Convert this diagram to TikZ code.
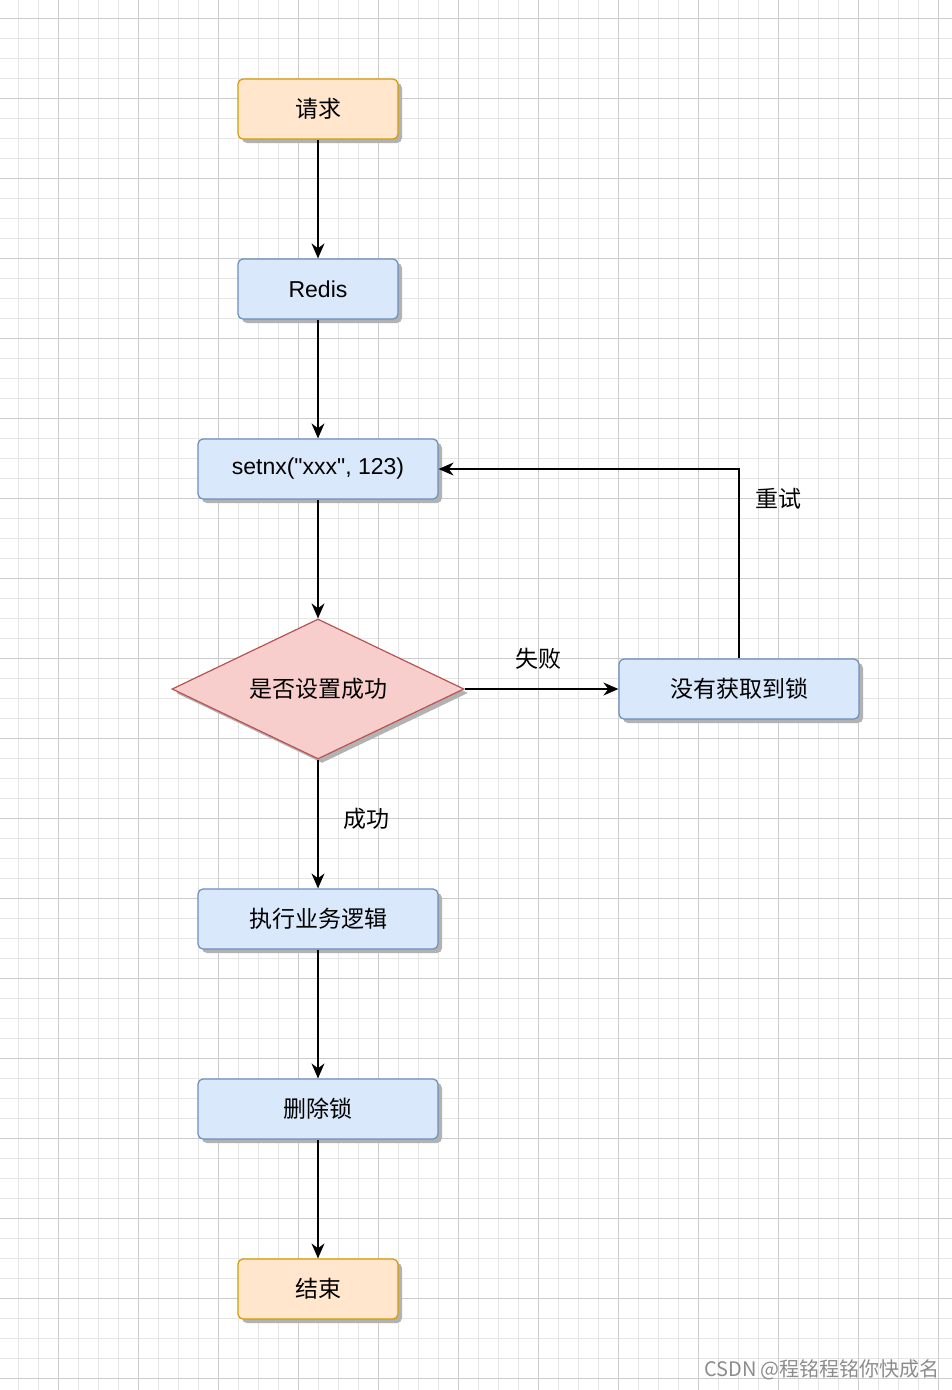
\documentclass[tikz,border=0pt]{standalone}
\usepackage{fontspec}
\setmainfont{Liberation Sans}[Ligatures=TeXOff]
\newfontfamily\cjk{Noto Sans CJK SC}
\usetikzlibrary{shapes.geometric,arrows.meta,shadows}
\definecolor{ofill}{HTML}{FFE6CC}\definecolor{oline}{HTML}{D79B00}
\definecolor{bfill}{HTML}{DAE8FC}\definecolor{bline}{HTML}{6C8EBF}
\definecolor{rfill}{HTML}{F8CECC}\definecolor{rline}{HTML}{B85450}
\begin{document}
\begin{tikzpicture}[x=1pt,y=-1pt,
  sh/.style={drop shadow={shadow xshift=4pt,shadow yshift=-4pt,fill=black!30,opacity=1}},
  box/.style={rectangle,rounded corners=5pt,draw=bline,fill=bfill,line width=1.2pt,minimum width=240pt,minimum height=60pt,sh,font=\fontsize{23}{27}\selectfont\cjk},
  obox/.style={box,draw=oline,fill=ofill,minimum width=160pt},
  dec/.style={diamond,aspect=2.08,draw=rline,fill=rfill,line width=1.2pt,minimum width=292pt,minimum height=140pt,inner sep=0pt,sh,font=\fontsize{23}{27}\selectfont\cjk},
  arr/.style={line width=1.4pt,-{Stealth[length=15pt,width=13pt]}},
  lab/.style={font=\fontsize{23}{27}\selectfont\cjk}]
\useasboundingbox (0,0) rectangle (952,1390);
\fill[white] (0,0) rectangle (952,1390);
\foreach \x in {18,38,...,952} \draw[black!10,line width=0.6pt] (\x,0) -- (\x,1390);
\foreach \y in {18,38,...,1390} \draw[black!10,line width=0.6pt] (0,\y) -- (952,\y);
\foreach \x in {58,138,...,952} \draw[black!20,line width=0.8pt] (\x,0) -- (\x,1390);
\foreach \y in {18,98,...,1390} \draw[black!20,line width=0.8pt] (0,\y) -- (952,\y);
\node[obox] (req) at (318,109) {请求};
\node[obox,fill=bfill,draw=bline,font=\fontsize{23}{27}\selectfont] (redis) at (318,289) {Redis};
\node[box,font=\fontsize{23}{27}\selectfont] (setnx) at (318,469) {setnx("xxx", 123)};
\node[dec] (d) at (318,689) {是否设置成功};
\node[box] (fail) at (739,689) {没有获取到锁};
\node[box] (biz) at (318,919) {执行业务逻辑};
\node[box] (del) at (318,1109) {删除锁};
\node[obox] (end) at (318,1289) {结束};
\draw[arr] (req) -- (redis);
\draw[arr] (redis) -- (setnx);
\draw[arr] (setnx) -- (d);
\draw[arr] (d.east) -- (fail.west);
\draw[arr] (fail.north) |- (setnx.east);
\draw[arr] (d.south) -- (biz);
\draw[arr] (biz) -- (del);
\draw[arr] (del) -- (end);
\node[lab] (l1) at (538,659) {失败};
\node[lab] (l2) at (778,499) {重试};
\node[lab] (l3) at (366,819) {成功};
\node[font=\fontsize{20}{24}\selectfont\cjk,text=black!45] (wm) at (822,1370) {CSDN @程铭程铭你快成名};
\end{tikzpicture}
\end{document}
